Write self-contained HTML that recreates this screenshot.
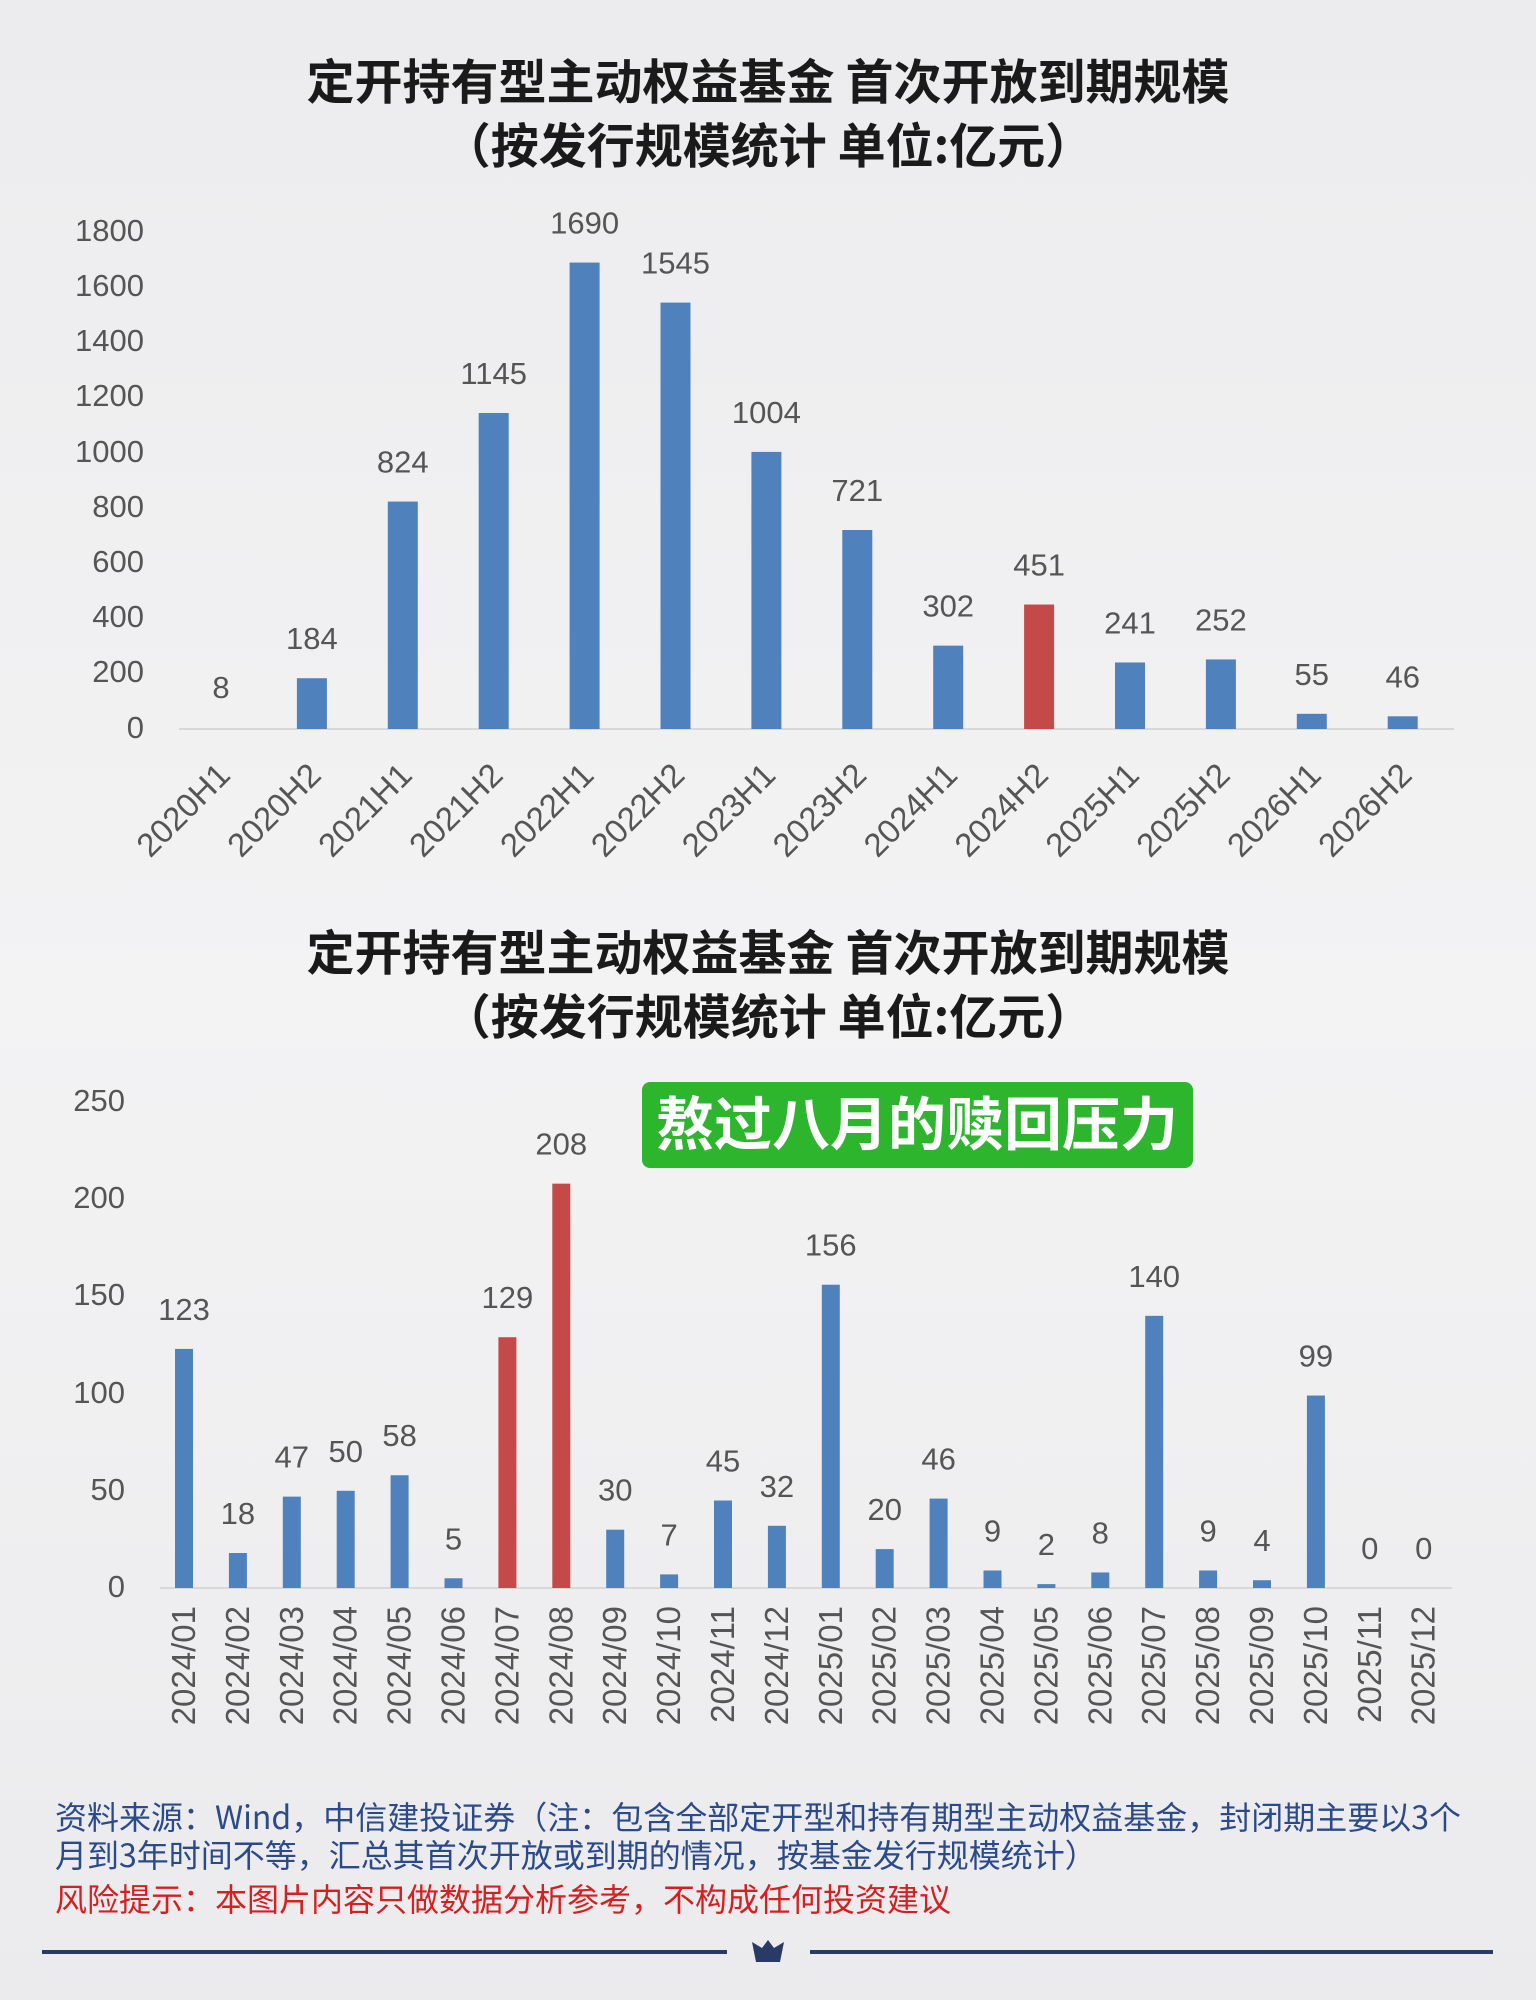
<!DOCTYPE html>
<html><head><meta charset="utf-8"><style>
html,body{margin:0;padding:0;width:1536px;height:2000px;overflow:hidden;background:#eeeef0}
svg{display:block}
</style></head><body>
<svg width="1536" height="2000" viewBox="0 0 1536 2000" xmlns="http://www.w3.org/2000/svg" font-family="Liberation Sans, Noto Sans CJK SC, sans-serif">
<defs><linearGradient id="bg" x1="0" y1="0" x2="0" y2="1"><stop offset="0" stop-color="#ececee"/><stop offset="0.5" stop-color="#f3f3f4"/><stop offset="1" stop-color="#ebebed"/></linearGradient></defs>
<rect width="1536" height="2000" fill="url(#bg)"/>
<g font-family="Noto Sans CJK SC, sans-serif" font-weight="bold" font-size="48" fill="#1a1a1a" text-anchor="middle">
<text x="768" y="99">定开持有型主动权益基金 首次开放到期规模</text>
<text x="768" y="163">（按发行规模统计 单位:亿元）</text>
<text x="768" y="970">定开持有型主动权益基金 首次开放到期规模</text>
<text x="768" y="1034">（按发行规模统计 单位:亿元）</text>
</g>
<g font-size="31" fill="#555" text-anchor="end">
<text x="144" y="241">1800</text><text x="144" y="296">1600</text><text x="144" y="351">1400</text><text x="144" y="406">1200</text><text x="144" y="462">1000</text><text x="144" y="517">800</text><text x="144" y="572">600</text><text x="144" y="627">400</text><text x="144" y="682">200</text><text x="144" y="738">0</text>
</g>
<line x1="179" y1="729" x2="1454" y2="729" stroke="#d8d8d8" stroke-width="2"/>
<g id="c1"></g>
<g font-size="31" fill="#555" text-anchor="end">
<text x="125" y="1111">250</text><text x="125" y="1208">200</text><text x="125" y="1305">150</text><text x="125" y="1403">100</text><text x="125" y="1500">50</text><text x="125" y="1597">0</text>
</g>
<line x1="160" y1="1588" x2="1452" y2="1588" stroke="#d8d8d8" stroke-width="2"/>
<g id="c2"></g>
<rect x="642" y="1082" width="551" height="86" rx="8" fill="#2db52d"/>
<text x="917" y="1145" text-anchor="middle" font-family="Noto Sans CJK SC, sans-serif" font-weight="bold" font-size="58" fill="#fff">熬过八月的赎回压力</text>
<g font-family="Noto Sans CJK SC, sans-serif" font-size="32">
<text x="55" y="1829" fill="#2b4a8a">资料来源：Wind，中信建投证券（注：包含全部定开型和持有期型主动权益基金，封闭期主要以3个</text>
<text x="55" y="1867" fill="#2b4a8a">月到3年时间不等，汇总其首次开放或到期的情况，按基金发行规模统计）</text>
<text x="55" y="1911" fill="#d42020">风险提示：本图片内容只做数据分析参考，不构成任何投资建议</text>
</g>
<line x1="42" y1="1952" x2="727" y2="1952" stroke="#2a3a66" stroke-width="4"/>
<line x1="810" y1="1952" x2="1493" y2="1952" stroke="#2a3a66" stroke-width="4"/>
<path d="M752 1942 L762 1948 L768 1940 L774 1948 L784 1942 L780 1962 L756 1962 Z" fill="#2a3a66"/>
</svg>
<script>
var ns="http://www.w3.org/2000/svg";
function el(p,t,a,txt){var e=document.createElementNS(ns,t);for(var k in a)e.setAttribute(k,a[k]);if(txt!==undefined)e.textContent=txt;p.appendChild(e);return e;}
var v1=[8,184,824,1145,1690,1545,1004,721,302,451,241,252,55,46];
var l1=["2020H1","2020H2","2021H1","2021H2","2022H1","2022H2","2023H1","2023H2","2024H1","2024H2","2025H1","2025H2","2026H1","2026H2"];
var g1=document.getElementById("c1");
v1.forEach(function(v,i){var x=221+i*90.9,h=v*55.2/200;
if(v>20)el(g1,"rect",{x:x-15,y:729-h,width:30,height:h,fill:i==9?"#c44a4a":"#4f81bd"});
el(g1,"text",{x:x,y:729-h-29,"text-anchor":"middle","font-size":"31",fill:"#555"},String(v));
el(g1,"text",{x:0,y:0,"text-anchor":"end","font-size":"33",fill:"#555",transform:"translate("+(x+11)+",777) rotate(-45)"},l1[i]);});
var v2=[123,18,47,50,58,5,129,208,30,7,45,32,156,20,46,9,2,8,140,9,4,99,0,0];
var g2=document.getElementById("c2");
v2.forEach(function(v,i){var x=184+i*53.9,h=v*97.2/50;var y=i<12?"2024":"2025";var m=("0"+(i%12+1)).slice(-2);
if(h>0)el(g2,"rect",{x:x-9,y:1588-h,width:18,height:h,fill:(i==6||i==7)?"#c44a4a":"#4f81bd"});
el(g2,"text",{x:x,y:1588-h-29,"text-anchor":"middle","font-size":"31",fill:"#555"},String(v));
el(g2,"text",{x:0,y:0,"text-anchor":"end","font-size":"33",fill:"#555",transform:"translate("+(x+11)+",1606) rotate(-90)"},y+"/"+m);});
</script>
</body></html>
